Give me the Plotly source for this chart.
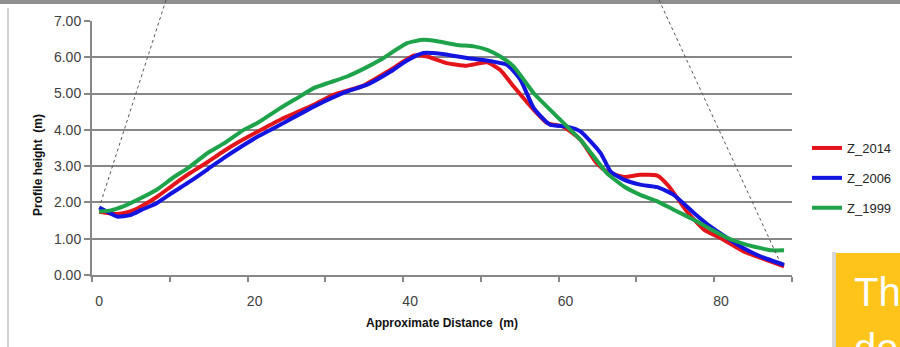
import plotly.graph_objects as go

# ---- data ----
x_2014 = [0, 2.3, 4, 5.5, 7.4, 9.5, 11.7, 14, 16, 18, 20.3, 23.3, 27.6, 30.2, 34, 37.5,
          40.5, 42.2, 44.7, 47.3, 49.9, 51.6, 53.3, 55.9, 57.6, 59.7, 61.9, 64, 65.3,
          67.5, 69.6, 71.8, 73.3, 75.6, 77.8, 79.9, 82.9, 85.1, 88.1]
z_2014 = [1.74, 1.68, 1.75, 1.90, 2.15, 2.48, 2.81, 3.12, 3.41, 3.67, 3.94, 4.28, 4.69,
          4.97, 5.22, 5.66, 6.05, 6.02, 5.84, 5.77, 5.86, 5.65, 5.20, 4.55, 4.19, 4.09,
          3.73, 3.08, 2.85, 2.70, 2.76, 2.74, 2.44, 1.75, 1.25, 1.02, 0.65, 0.47, 0.24]

x_2006 = [0, 1, 2.3, 4, 5.5, 7.4, 9.5, 11.7, 14, 16, 18, 20.3, 23.3, 27.6, 31.9, 34.4,
          37.5, 39.5, 41.7, 43.9, 47.3, 50.7, 52.5, 54.2, 55.9, 58, 60.2, 61.9, 64.5,
          65.8, 67.5, 69.6, 71.8, 73.9, 76.5, 78.6, 80.8, 82.9, 85.1, 88.1]
z_2006 = [1.86, 1.75, 1.61, 1.65, 1.80, 1.98, 2.28, 2.58, 2.92, 3.22, 3.50, 3.80, 4.14,
          4.64, 5.06, 5.24, 5.61, 5.90, 6.12, 6.10, 5.98, 5.88, 5.79, 5.38, 4.60, 4.14,
          4.09, 3.96, 3.36, 2.85, 2.63, 2.49, 2.42, 2.21, 1.71, 1.34, 1.02, 0.74, 0.51, 0.28]

x_1999 = [0, 1.5, 3.1, 5, 7.4, 9.5, 11.7, 14, 16, 18.6, 20.3, 23.3, 25.9, 27.6, 31.9, 34,
          36.2, 39.6, 41.7, 43.5, 46, 48.2, 50, 51.6, 53.3, 55.9, 57.6, 60.2, 61.9, 63.5,
          65.3, 67.5, 69.6, 71.8, 73.9, 76.5, 78.6, 80.8, 82.9, 85.1, 86.5, 88.1]
z_1999 = [1.75, 1.78, 1.89, 2.08, 2.35, 2.68, 2.99, 3.37, 3.62, 4.00, 4.18, 4.60, 4.93,
          5.15, 5.47, 5.68, 5.93, 6.39, 6.48, 6.44, 6.34, 6.30, 6.20, 6.02, 5.75, 5.01,
          4.64, 4.09, 3.73, 3.30, 2.81, 2.44, 2.21, 2.03, 1.80, 1.52, 1.27, 1.02, 0.86,
          0.74, 0.68, 0.68]

series_names = ["Z_2014", "Z_2006", "Z_1999"]
series_colors = ["#E3151B", "#1414E0", "#1EA34B"]
x_tick_vals = [0, 20, 40, 60, 80]
y_tick_vals = [0, 1, 2, 3, 4, 5, 6, 7]

W, H = 900, 347
L, R, T, B = 92, 108, 21, 72
PW, PH = W - L - R, H - T - B


def px2x(px):
    return (px - L) / PW


def py2y(py):
    return (H - B - py) / PH


fig = go.Figure()
for i, (xs, ys) in enumerate([(x_2014, z_2014), (x_2006, z_2006), (x_1999, z_1999)]):
    fig.add_trace(go.Scatter(
        x=xs, y=ys, mode="lines", name=series_names[i],
        line=dict(color=series_colors[i], width=4, shape="spline", smoothing=0.5),
        legendgroup=series_names[i],
    ))

grid_col = "#878787"
fig.update_xaxes(
    range=[-0.92, 89.12], tickvals=x_tick_vals, ticktext=[str(v) for v in x_tick_vals],
    ticks="outside", ticklen=12, tickcolor="rgba(0,0,0,0)",
    showgrid=False, zeroline=False, showline=True, linecolor=grid_col, linewidth=2,
    tickfont=dict(family="Liberation Sans, Arial", size=14, color="#404040"),
    minor=dict(ticks="outside", tick0=-0.9, dtick=10, ticklen=5, tickwidth=2,
               tickcolor=grid_col, showgrid=False),
)
fig.update_yaxes(
    range=[0, 7], tickvals=y_tick_vals, tickformat=".2f",
    ticks="outside", ticklen=6, tickwidth=2, tickcolor=grid_col,
    showgrid=True, gridcolor=grid_col, gridwidth=2, zeroline=False,
    showline=True, linecolor=grid_col, linewidth=2,
    tickfont=dict(family="Liberation Sans, Arial", size=14, color="#404040"),
)

shapes = []
# top gray band of the screenshot
shapes.append(dict(type="rect", xref="paper", yref="paper", x0=px2x(0), x1=px2x(W),
                   y0=py2y(4), y1=py2y(0), fillcolor="#8e8e8e", line=dict(width=0),
                   layer="above"))
# left frame line
shapes.append(dict(type="line", xref="paper", yref="paper", x0=px2x(8), x1=px2x(8),
                   y0=py2y(8), y1=py2y(H), line=dict(color="#a0a0a0", width=1)))
# dotted diagonal lines
shapes.append(dict(type="line", xref="paper", yref="paper", x0=px2x(166), y0=py2y(0),
                   x1=px2x(100), y1=py2y(205), line=dict(color="#555555", width=1, dash="dot"),
                   layer="above"))
shapes.append(dict(type="line", xref="paper", yref="paper", x0=px2x(659), y0=py2y(0),
                   x1=px2x(780), y1=py2y(262), line=dict(color="#555555", width=1, dash="dot"),
                   layer="above"))
# orange text box (slide overlay)
shapes.append(dict(type="rect", xref="paper", yref="paper", x0=px2x(832), x1=px2x(836),
                   y0=py2y(H + 5), y1=py2y(252), fillcolor="#d8d8d8", line=dict(width=0)))
shapes.append(dict(type="rect", xref="paper", yref="paper", x0=px2x(836), x1=px2x(W + 5),
                   y0=py2y(H + 5), y1=py2y(253), fillcolor="#FFC41A", line=dict(width=0)))

annotations = [
    dict(text="<b>Profile height  (m)</b>", xref="paper", yref="paper", x=px2x(38),
         y=py2y(165), textangle=-90, showarrow=False, xanchor="center", yanchor="middle",
         font=dict(family="Liberation Sans, Arial", size=12, color="#111111")),
    dict(text="<b>Approximate Distance  (m)</b>", xref="paper", yref="paper", x=px2x(442),
         y=py2y(323), showarrow=False, xanchor="center", yanchor="middle",
         font=dict(family="Liberation Sans, Arial", size=12, color="#111111")),
    dict(text="Th", xref="paper", yref="paper", x=px2x(852), y=py2y(292), showarrow=False,
         xanchor="left", yanchor="middle",
         font=dict(family="Liberation Sans, Arial", size=40, color="#ffffff")),
    dict(text="de", xref="paper", yref="paper", x=px2x(852), y=py2y(348), showarrow=False,
         xanchor="left", yanchor="middle",
         font=dict(family="Liberation Sans, Arial", size=40, color="#ffffff")),
]

fig.update_layout(
    width=W, height=H, margin=dict(l=L, r=R, t=T, b=B, pad=0, autoexpand=False),
    paper_bgcolor="white", plot_bgcolor="white",
    shapes=shapes, annotations=annotations,
    showlegend=True,
    legend=dict(x=px2x(807), y=py2y(133), xanchor="left", yanchor="top",
                traceorder="grouped", tracegroupgap=10, bgcolor="rgba(0,0,0,0)",
                font=dict(family="Liberation Sans, Arial", size=13, color="#262626")),
)

fig.write_html("out.html", config={"displayModeBar": False},
               post_script="document.body.style.margin='0';document.body.style.overflow='hidden';")
